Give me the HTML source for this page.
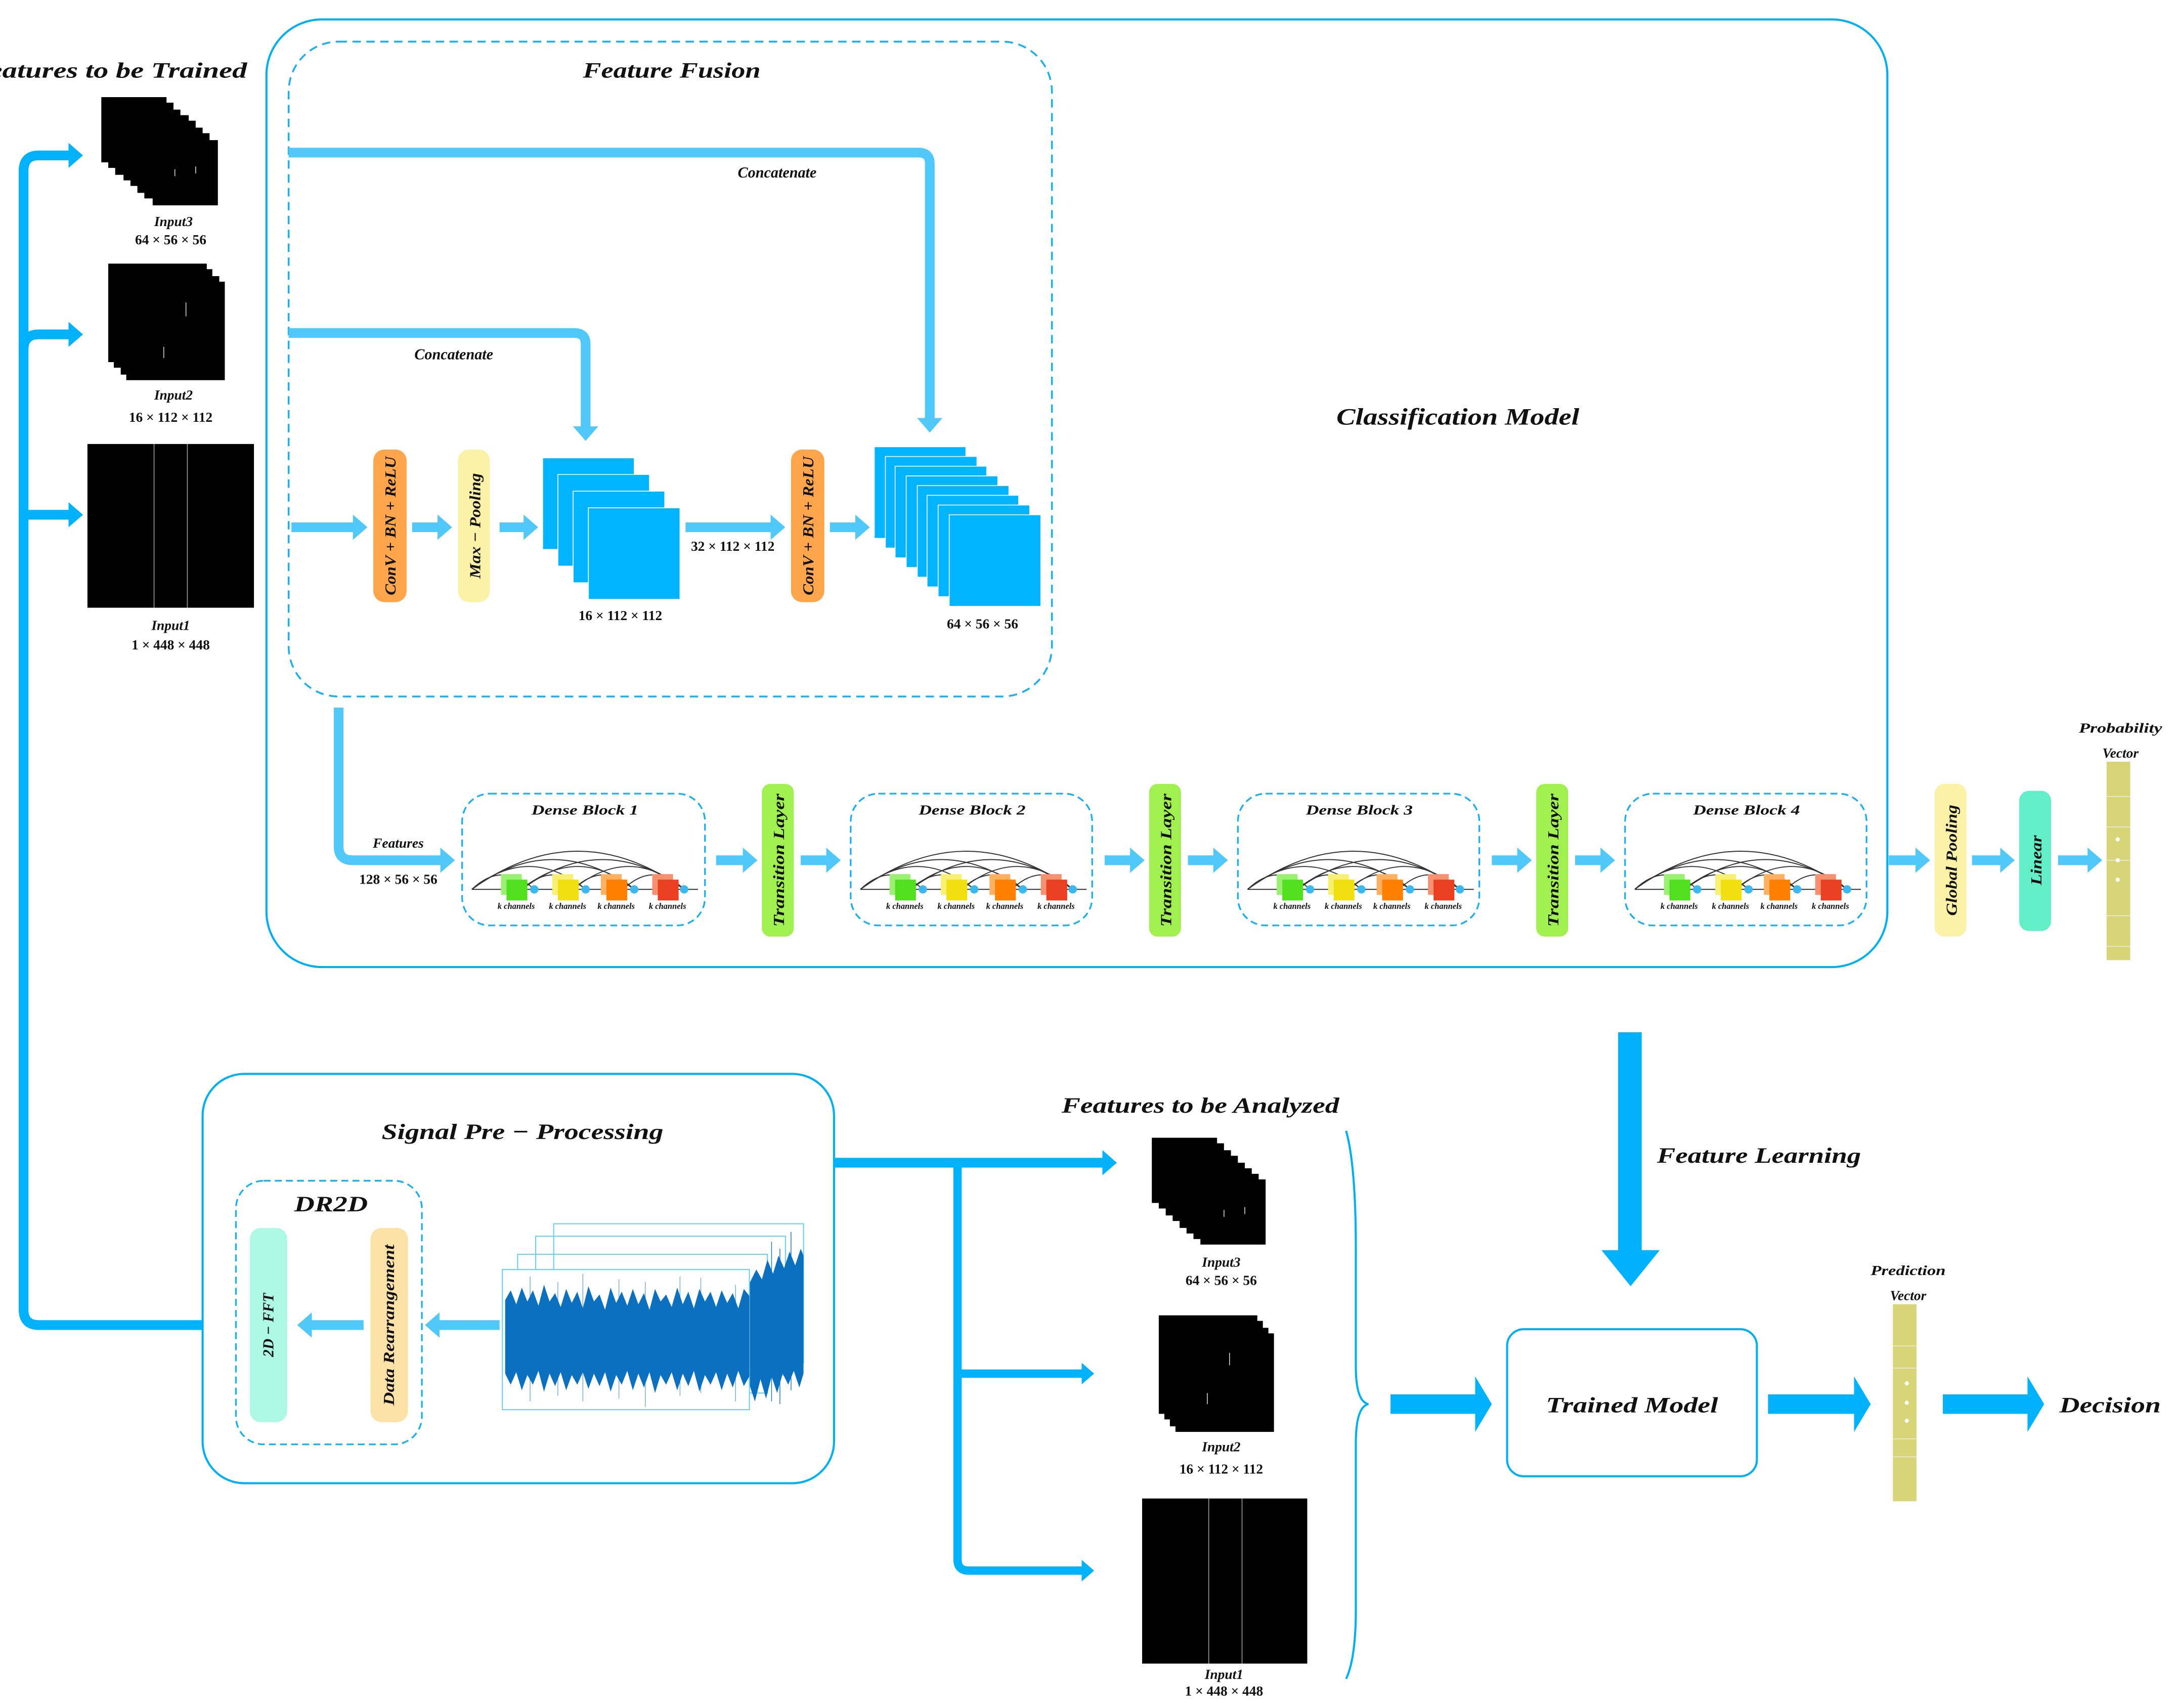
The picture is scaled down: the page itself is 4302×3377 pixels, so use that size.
<!DOCTYPE html>
<html><head><meta charset="utf-8"><style>
html,body{margin:0;padding:0;background:#fff}
svg{display:block}
text{font-family:"Liberation Serif",serif;font-style:italic;font-weight:bold;fill:#111}
.n{font-style:normal}
</style></head><body>
<svg width="4302" height="3377" viewBox="0 0 1568 1231" preserveAspectRatio="none" xmlns="http://www.w3.org/2000/svg">
<defs>
<marker id="ah" markerUnits="strokeWidth" markerWidth="1.5" markerHeight="2.6" viewBox="0 0 15 26" refX="1" refY="13" orient="auto"><path d="M0,0 L15,13 L0,26 z" fill="#50c8fa"/></marker>
<marker id="ahd" markerUnits="strokeWidth" markerWidth="1.5" markerHeight="2.6" viewBox="0 0 15 26" refX="1" refY="13" orient="auto"><path d="M0,0 L15,13 L0,26 z" fill="#00b2fb"/></marker>
<g id="arcs" fill="none" stroke="#333" stroke-width="0.7">
<path d="M7,69 Q29,48 52,69"/><path d="M7,69 Q48,36 89,69"/><path d="M7,69 Q65,26 124,69"/><path d="M7,69 Q83,14 160,69"/>
<path d="M43,69 Q66,48 89,69"/><path d="M43,69 Q83,36 124,69"/><path d="M43,69 Q101,26 160,69"/>
<path d="M80,69 Q102,48 124,69"/><path d="M80,69 Q120,36 160,69"/>
<path d="M116,69 Q138,48 160,69"/>
<line x1="7" y1="69" x2="170" y2="69" stroke="#222"/>
<g fill="#3cb8f0" stroke="none"><circle cx="52" cy="69" r="3"/><circle cx="89" cy="69" r="3"/><circle cx="124" cy="69" r="3"/><circle cx="160" cy="69" r="3"/></g>
<g stroke="none"><rect x="28" y="58" width="15" height="15" fill="#9af070"/><rect x="32" y="62" width="15" height="15" fill="#50e020"/>
<rect x="65" y="58" width="15" height="15" fill="#f8f070"/><rect x="69" y="62" width="15" height="15" fill="#f0e010"/>
<rect x="100" y="58" width="15" height="15" fill="#ffb060"/><rect x="104" y="62" width="15" height="15" fill="#ff8000"/>
<rect x="137" y="58" width="15" height="15" fill="#f89070"/><rect x="141" y="62" width="15" height="15" fill="#e84020"/></g>
</g>
</defs>

<!-- Classification model box -->
<rect x="192" y="14" width="1168" height="683" rx="40" fill="none" stroke="#00b0f0" stroke-width="1.5"/>
<text x="963" y="306" font-size="17" textLength="175" lengthAdjust="spacingAndGlyphs">Classification Model</text>
<!-- Feature fusion -->
<rect x="208" y="30" width="550" height="472" rx="36" fill="none" stroke="#1ab0f0" stroke-width="1.3" stroke-dasharray="6,4"/>
<text x="420" y="56" font-size="16" textLength="128" lengthAdjust="spacingAndGlyphs">Feature Fusion</text>

<text x="-22" y="56" font-size="16" textLength="200" lengthAdjust="spacingAndGlyphs">Features to be Trained</text>

<!-- left bracket -->
<path d="M146,955 L28,955 Q17,955 17,944 L17,123 Q17,112 28,112 L50,112" fill="none" stroke="#00b2fb" stroke-width="7" marker-end="url(#ahd)"/>
<path d="M17,252 Q17,241 28,241 L50,241" fill="none" stroke="#00b2fb" stroke-width="7" marker-end="url(#ahd)"/>
<path d="M17,371 L50,371" fill="none" stroke="#00b2fb" stroke-width="7" marker-end="url(#ahd)"/>

<!-- Input stacks (trained) -->
<g fill="#000">
<rect x="73" y="70" width="47" height="47"/><rect x="78" y="74" width="47" height="47"/><rect x="83" y="79" width="47" height="47"/><rect x="89" y="83" width="47" height="47"/><rect x="94" y="87" width="47" height="47"/><rect x="99" y="92" width="47" height="47"/><rect x="104" y="96" width="47" height="47"/><rect x="110" y="101" width="47" height="47"/>
<rect x="78" y="190" width="71" height="71"/><rect x="82" y="194" width="71" height="71"/><rect x="87" y="199" width="71" height="71"/><rect x="91" y="203" width="71" height="71"/>
<rect x="63" y="320" width="120" height="118"/>
</g>
<g stroke="#ccc" stroke-width="0.6"><line x1="126" y1="122" x2="126" y2="127"/><line x1="141" y1="120" x2="141" y2="125"/><line x1="134" y1="218" x2="134" y2="228"/><line x1="118" y1="250" x2="118" y2="258"/>
<line x1="111" y1="320" x2="111" y2="438" stroke="#999"/><line x1="135" y1="320" x2="135" y2="438" stroke="#999"/></g>
<text x="125" y="163" font-size="10" text-anchor="middle">Input3</text>
<text x="123" y="176" font-size="10" class="n" text-anchor="middle">64 × 56 × 56</text>
<text x="125" y="288" font-size="10" text-anchor="middle">Input2</text>
<text x="123" y="304" font-size="10" class="n" text-anchor="middle">16 × 112 × 112</text>
<text x="123" y="454" font-size="10" text-anchor="middle">Input1</text>
<text x="123" y="468" font-size="10" class="n" text-anchor="middle">1 × 448 × 448</text>

<!-- concat arrows -->
<path d="M208,110 L662,110 Q670,110 670,118 L670,302" fill="none" stroke="#50c8fa" stroke-width="7" marker-end="url(#ah)"/>
<text x="560" y="128" font-size="11" text-anchor="middle">Concatenate</text>
<path d="M208,240 L414,240 Q422,240 422,248 L422,308" fill="none" stroke="#50c8fa" stroke-width="7" marker-end="url(#ah)"/>
<text x="327" y="259" font-size="11" text-anchor="middle">Concatenate</text>

<!-- row -->
<g fill="none" stroke="#50c8fa" stroke-width="7" marker-end="url(#ah)">
<line x1="210" y1="380" x2="255" y2="380"/><line x1="297" y1="380" x2="316" y2="380"/><line x1="360" y1="380" x2="378" y2="380"/><line x1="494" y1="380" x2="556" y2="380"/><line x1="598" y1="380" x2="617" y2="380"/>
</g>
<rect x="269" y="324" width="24" height="110" rx="8" fill="#ffa64d"/>
<text transform="translate(285,379) rotate(-90)" font-size="11" text-anchor="middle" textLength="100" lengthAdjust="spacingAndGlyphs">ConV + BN + ReLU</text>
<rect x="330" y="324" width="23" height="110" rx="8" fill="#fbf2a8"/>
<text transform="translate(346,379) rotate(-90)" font-size="11" text-anchor="middle" textLength="76" lengthAdjust="spacingAndGlyphs">Max − Pooling</text>
<rect x="570" y="324" width="24" height="110" rx="8" fill="#ffa64d"/>
<text transform="translate(586,379) rotate(-90)" font-size="11" text-anchor="middle" textLength="100" lengthAdjust="spacingAndGlyphs">ConV + BN + ReLU</text>
<g fill="#00b4ff" stroke="#fff" stroke-width="0.6">
<rect x="391" y="330" width="66" height="66"/><rect x="402" y="342" width="66" height="66"/><rect x="413" y="354" width="66" height="66"/><rect x="424" y="366" width="66" height="66"/>
<rect x="630" y="322" width="66" height="66"/><rect x="638" y="329" width="66" height="66"/><rect x="645" y="336" width="66" height="66"/><rect x="653" y="343" width="66" height="66"/><rect x="661" y="350" width="66" height="66"/><rect x="668" y="357" width="66" height="66"/><rect x="676" y="364" width="66" height="66"/><rect x="684" y="371" width="66" height="66"/>
</g>
<text x="528" y="397" font-size="10" class="n" text-anchor="middle">32 × 112 × 112</text>
<text x="447" y="447" font-size="10" class="n" text-anchor="middle">16 × 112 × 112</text>
<text x="708" y="453" font-size="10" class="n" text-anchor="middle">64 × 56 × 56</text>

<!-- features arrow -->
<path d="M244,510 L244,610 Q244,620 254,620 L318,620" fill="none" stroke="#50c8fa" stroke-width="7" marker-end="url(#ah)"/>
<text x="287" y="611" font-size="10" text-anchor="middle">Features</text>
<text x="287" y="637" font-size="10" class="n" text-anchor="middle">128 × 56 × 56</text>

<!-- dense blocks -->
<g fill="none" stroke="#1ab0f0" stroke-width="1.2" stroke-dasharray="5,3">
<rect x="333" y="572" width="175" height="95" rx="20"/><rect x="613" y="572" width="174" height="95" rx="20"/><rect x="892" y="572" width="174" height="95" rx="20"/><rect x="1171" y="572" width="174" height="95" rx="20"/>
</g>
<text x="383" y="587" font-size="10" textLength="77" lengthAdjust="spacingAndGlyphs">Dense Block 1</text>
<text x="662" y="587" font-size="10" textLength="77" lengthAdjust="spacingAndGlyphs">Dense Block 2</text>
<text x="941" y="587" font-size="10" textLength="77" lengthAdjust="spacingAndGlyphs">Dense Block 3</text>
<text x="1220" y="587" font-size="10" textLength="77" lengthAdjust="spacingAndGlyphs">Dense Block 4</text>
<use href="#arcs" transform="translate(333,572)"/><use href="#arcs" transform="translate(613,572)"/><use href="#arcs" transform="translate(892,572)"/><use href="#arcs" transform="translate(1171,572)"/>
<g font-size="6" class="n">
<text x="372" y="655" text-anchor="middle">k channels</text><text x="409" y="655" text-anchor="middle">k channels</text><text x="444" y="655" text-anchor="middle">k channels</text><text x="481" y="655" text-anchor="middle">k channels</text>
<text x="652" y="655" text-anchor="middle">k channels</text><text x="689" y="655" text-anchor="middle">k channels</text><text x="724" y="655" text-anchor="middle">k channels</text><text x="761" y="655" text-anchor="middle">k channels</text>
<text x="931" y="655" text-anchor="middle">k channels</text><text x="968" y="655" text-anchor="middle">k channels</text><text x="1003" y="655" text-anchor="middle">k channels</text><text x="1040" y="655" text-anchor="middle">k channels</text>
<text x="1210" y="655" text-anchor="middle">k channels</text><text x="1247" y="655" text-anchor="middle">k channels</text><text x="1282" y="655" text-anchor="middle">k channels</text><text x="1319" y="655" text-anchor="middle">k channels</text>
</g>
<g fill="none" stroke="#50c8fa" stroke-width="7" marker-end="url(#ah)">
<line x1="516" y1="620" x2="536" y2="620"/><line x1="577" y1="620" x2="596" y2="620"/>
<line x1="796" y1="620" x2="815" y2="620"/><line x1="856" y1="620" x2="875" y2="620"/>
<line x1="1075" y1="620" x2="1094" y2="620"/><line x1="1135" y1="620" x2="1154" y2="620"/>
<line x1="1361" y1="620" x2="1381" y2="620"/><line x1="1421" y1="620" x2="1442" y2="620"/><line x1="1483" y1="620" x2="1505" y2="620"/>
</g>
<g fill="#a0f050"><rect x="549" y="565" width="23" height="110" rx="6"/><rect x="828" y="565" width="23" height="110" rx="6"/><rect x="1107" y="565" width="23" height="110" rx="6"/></g>
<text transform="translate(565,620) rotate(-90)" font-size="11" text-anchor="middle" textLength="96" lengthAdjust="spacingAndGlyphs">Transition Layer</text>
<text transform="translate(844,620) rotate(-90)" font-size="11" text-anchor="middle" textLength="96" lengthAdjust="spacingAndGlyphs">Transition Layer</text>
<text transform="translate(1123,620) rotate(-90)" font-size="11" text-anchor="middle" textLength="96" lengthAdjust="spacingAndGlyphs">Transition Layer</text>
<rect x="1394" y="565" width="23" height="110" rx="7" fill="#fbf2a8"/>
<text transform="translate(1410,620) rotate(-90)" font-size="11" text-anchor="middle" textLength="80" lengthAdjust="spacingAndGlyphs">Global Pooling</text>
<rect x="1455" y="570" width="23" height="101" rx="7" fill="#62efc8"/>
<text transform="translate(1471,620) rotate(-90)" font-size="11" text-anchor="middle" textLength="36" lengthAdjust="spacingAndGlyphs">Linear</text>
<rect x="1518" y="549" width="17" height="143" fill="#d8d478"/>
<g stroke="#eee" stroke-width="0.5"><line x1="1518" y1="574" x2="1535" y2="574"/><line x1="1518" y1="596" x2="1535" y2="596"/><line x1="1518" y1="620" x2="1535" y2="620"/><line x1="1518" y1="660" x2="1535" y2="660"/><line x1="1518" y1="682" x2="1535" y2="682"/></g>
<g fill="#fff"><circle cx="1526" cy="605" r="1.5"/><circle cx="1526" cy="620" r="1.5"/><circle cx="1526" cy="634" r="1.5"/></g>
<text x="1528" y="528" font-size="10" text-anchor="middle" textLength="60" lengthAdjust="spacingAndGlyphs">Probability</text>
<text x="1528" y="546" font-size="10" text-anchor="middle">Vector</text>

<!-- feature learning arrow -->
<rect x="1166" y="744" width="17" height="158" fill="#00b2fb"/>
<polygon points="1154,901 1196,901 1175,927" fill="#00b2fb"/>
<text x="1194" y="838" font-size="16" textLength="147" lengthAdjust="spacingAndGlyphs">Feature Learning</text>

<!-- Signal pre-processing -->
<rect x="146" y="774" width="455" height="295" rx="30" fill="none" stroke="#00b0f0" stroke-width="1.5"/>
<text x="275" y="821" font-size="16" textLength="203" lengthAdjust="spacingAndGlyphs">Signal Pre − Processing</text>
<rect x="170" y="851" width="134" height="190" rx="20" fill="none" stroke="#1ab0f0" stroke-width="1.2" stroke-dasharray="5,3"/>
<text x="212" y="873" font-size="16" textLength="53" lengthAdjust="spacingAndGlyphs">DR2D</text>
<rect x="180" y="885" width="27" height="140" rx="8" fill="#aef8e6"/>
<text transform="translate(197,955) rotate(-90)" font-size="11" text-anchor="middle" textLength="46" lengthAdjust="spacingAndGlyphs">2D − FFT</text>
<rect x="267" y="885" width="27" height="140" rx="8" fill="#fde2a8"/>
<text transform="translate(284,955) rotate(-90)" font-size="11" text-anchor="middle" textLength="116" lengthAdjust="spacingAndGlyphs">Data Rearrangement</text>
<g fill="none" stroke="#50c8fa" stroke-width="7" marker-end="url(#ah)"><line x1="360" y1="955" x2="316" y2="955"/><line x1="262" y1="955" x2="224" y2="955"/></g>
<!-- signal frames -->
<g fill="none" stroke="#6fd0f6" stroke-width="0.8">
<rect x="399" y="882" width="180" height="100"/><rect x="386" y="891" width="180" height="100"/><rect x="373" y="904" width="180" height="100"/>
</g>
<polygon points="540,925 545,915 549,922 553,908 557,918 561,905 565,914 569,902 573,912 577,900 579,905 579,990 576,1000 572,988 568,998 564,990 560,1004 556,992 552,1008 548,994 544,1010 540,998" fill="#0a70bf"/>
<g stroke="#0a70bf" stroke-width="0.5"><line x1="556" y1="895" x2="556" y2="1010"/><line x1="570" y1="888" x2="570" y2="1002"/><line x1="562" y1="900" x2="562" y2="1012"/></g>
<rect x="362" y="915" width="178" height="101" fill="#fff" stroke="#6fd0f6" stroke-width="0.8"/>
<polygon points="364,937 368,930 372,940 376,928 380,938 384,930 388,941 392,926 396,938 400,932 404,942 408,929 412,939 416,931 420,943 424,927 428,938 432,933 436,944 440,928 444,939 448,931 452,941 456,929 460,940 464,932 468,944 472,929 476,938 480,933 484,942 488,928 492,940 496,931 500,943 504,929 508,938 512,931 516,942 520,930 524,939 528,932 532,943 536,929 540,934 540,992 536,999 532,988 528,1000 524,990 520,1002 516,989 512,998 508,991 504,1003 500,988 496,999 492,990 488,1002 484,989 480,998 476,991 472,1004 468,989 464,1000 460,990 456,1002 452,988 448,998 444,991 440,1003 436,989 432,999 428,990 424,1001 420,989 416,998 412,991 408,1002 404,989 400,999 396,990 392,1003 388,988 384,998 380,991 376,1002 372,989 368,998 364,990" fill="#0a70bf"/>
<g stroke="#0a70bf" stroke-width="0.5" opacity="0.6"><line x1="382" y1="920" x2="382" y2="1010"/><line x1="402" y1="924" x2="402" y2="1006"/><line x1="420" y1="918" x2="420" y2="1010"/><line x1="446" y1="922" x2="446" y2="1008"/><line x1="465" y1="924" x2="465" y2="1014"/><line x1="490" y1="920" x2="490" y2="1006"/><line x1="505" y1="921" x2="505" y2="1004"/><line x1="530" y1="926" x2="530" y2="1010"/></g>

<!-- signal to analyzed arrows -->
<path d="M601,838 L795,838" fill="none" stroke="#00b2fb" stroke-width="7" marker-end="url(#ahd)"/>
<path d="M690,838 L690,1124 Q690,1132 698,1132 L780,1132" fill="none" stroke="#00b2fb" stroke-width="6" marker-end="url(#ahd)"/>
<path d="M690,990 L780,990" fill="none" stroke="#00b2fb" stroke-width="6" marker-end="url(#ahd)"/>
<text x="765" y="802" font-size="16" textLength="200" lengthAdjust="spacingAndGlyphs">Features to be Analyzed</text>
<g fill="#000">
<rect x="830" y="820" width="47" height="47"/><rect x="835" y="824" width="47" height="47"/><rect x="840" y="829" width="47" height="47"/><rect x="845" y="833" width="47" height="47"/><rect x="850" y="838" width="47" height="47"/><rect x="855" y="842" width="47" height="47"/><rect x="860" y="846" width="47" height="47"/><rect x="865" y="850" width="47" height="47"/>
<rect x="835" y="948" width="71" height="71"/><rect x="839" y="952" width="71" height="71"/><rect x="843" y="957" width="71" height="71"/><rect x="847" y="961" width="71" height="71"/>
<rect x="823" y="1080" width="119" height="119"/>
</g>
<g stroke="#ccc" stroke-width="0.6"><line x1="882" y1="872" x2="882" y2="877"/><line x1="897" y1="870" x2="897" y2="875"/><line x1="886" y1="975" x2="886" y2="984"/><line x1="870" y1="1004" x2="870" y2="1012"/>
<line x1="871" y1="1080" x2="871" y2="1199" stroke="#999"/><line x1="895" y1="1080" x2="895" y2="1199" stroke="#999"/></g>
<text x="880" y="913" font-size="10" text-anchor="middle">Input3</text>
<text x="880" y="926" font-size="10" class="n" text-anchor="middle">64 × 56 × 56</text>
<text x="880" y="1046" font-size="10" text-anchor="middle">Input2</text>
<text x="880" y="1062" font-size="10" class="n" text-anchor="middle">16 × 112 × 112</text>
<text x="882" y="1210" font-size="10" text-anchor="middle">Input1</text>
<text x="882" y="1222" font-size="10" class="n" text-anchor="middle">1 × 448 × 448</text>
<!-- brace -->
<path d="M970,815 Q977,840 977,900 L977,985 Q977,1010 986,1012 Q977,1014 977,1040 L977,1160 Q977,1195 970,1210" fill="none" stroke="#00b0f0" stroke-width="1.5"/>

<!-- trained model -->
<polygon points="1002,1005 1063,1005 1063,992 1075,1012 1063,1032 1063,1019 1002,1019" fill="#00b2fb"/>
<rect x="1086" y="958" width="180" height="106" rx="12" fill="none" stroke="#00b0f0" stroke-width="1.5"/>
<text x="1114" y="1018" font-size="16" textLength="124" lengthAdjust="spacingAndGlyphs">Trained Model</text>
<polygon points="1274,1005 1336,1005 1336,992 1348,1012 1336,1032 1336,1019 1274,1019" fill="#00b2fb"/>
<rect x="1364" y="940" width="17" height="142" fill="#d8d478"/>
<g stroke="#eee" stroke-width="0.5"><line x1="1364" y1="970" x2="1381" y2="970"/><line x1="1364" y1="986" x2="1381" y2="986"/><line x1="1364" y1="1037" x2="1381" y2="1037"/><line x1="1364" y1="1050" x2="1381" y2="1050"/></g>
<g fill="#fff"><circle cx="1374" cy="997" r="1.5"/><circle cx="1374" cy="1011" r="1.5"/><circle cx="1374" cy="1024" r="1.5"/></g>
<text x="1375" y="919" font-size="10" text-anchor="middle" textLength="54" lengthAdjust="spacingAndGlyphs">Prediction</text>
<text x="1375" y="937" font-size="10" text-anchor="middle">Vector</text>
<polygon points="1400,1005 1461,1005 1461,992 1473,1012 1461,1032 1461,1019 1400,1019" fill="#00b2fb"/>
<text x="1484" y="1018" font-size="16" textLength="73" lengthAdjust="spacingAndGlyphs">Decision</text>
</svg>
</body></html>
